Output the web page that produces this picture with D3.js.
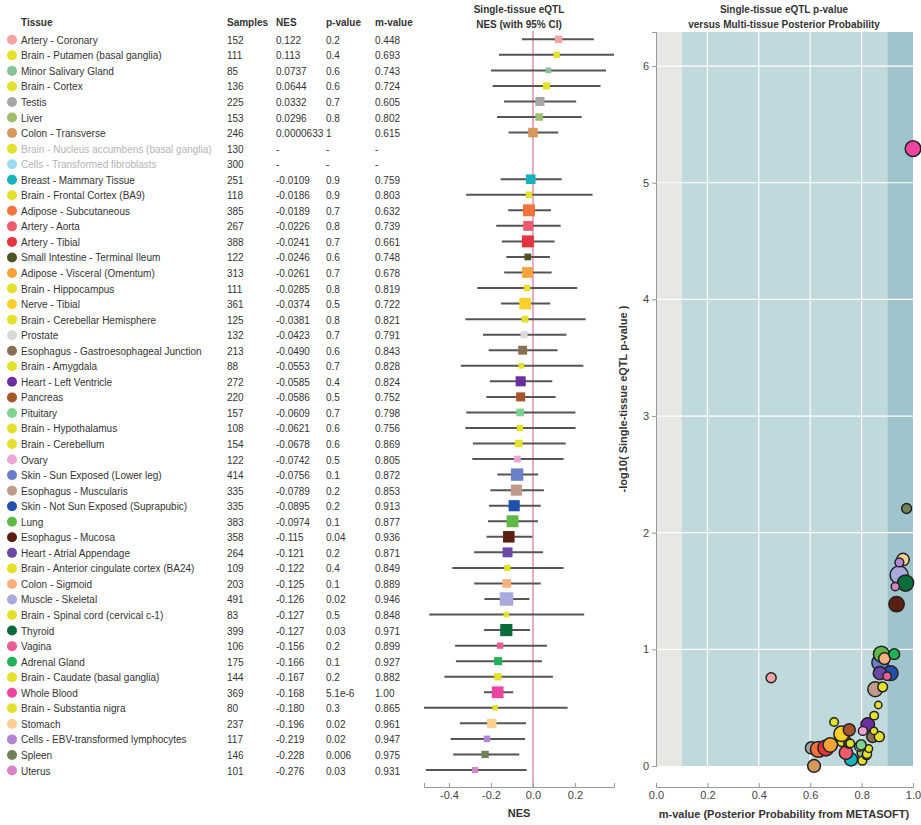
<!DOCTYPE html>
<html>
<head>
<meta charset="utf-8">
<script src="https://cdn.jsdelivr.net/npm/d3@7"></script>
<style>
  body { margin: 0; background: #fff; }
  text { font-family: "Liberation Sans", Arial, sans-serif; }
</style>
</head>
<body>
<svg id="chart" width="921" height="825"></svg>
<script>
// ---- data -------------------------------------------------------------
const tissues = [
  "Artery - Coronary", "Brain - Putamen (basal ganglia)", "Minor Salivary Gland", "Brain - Cortex",
  "Testis", "Liver", "Colon - Transverse", "Brain - Nucleus accumbens (basal ganglia)",
  "Cells - Transformed fibroblasts", "Breast - Mammary Tissue", "Brain - Frontal Cortex (BA9)",
  "Adipose - Subcutaneous", "Artery - Aorta", "Artery - Tibial", "Small Intestine - Terminal Ileum",
  "Adipose - Visceral (Omentum)", "Brain - Hippocampus", "Nerve - Tibial", "Brain - Cerebellar Hemisphere",
  "Prostate", "Esophagus - Gastroesophageal Junction", "Brain - Amygdala", "Heart - Left Ventricle",
  "Pancreas", "Pituitary", "Brain - Hypothalamus", "Brain - Cerebellum", "Ovary",
  "Skin - Sun Exposed (Lower leg)", "Esophagus - Muscularis", "Skin - Not Sun Exposed (Suprapubic)",
  "Lung", "Esophagus - Mucosa", "Heart - Atrial Appendage", "Brain - Anterior cingulate cortex (BA24)",
  "Colon - Sigmoid", "Muscle - Skeletal", "Brain - Spinal cord (cervical c-1)", "Thyroid", "Vagina",
  "Adrenal Gland", "Brain - Caudate (basal ganglia)", "Whole Blood", "Brain - Substantia nigra",
  "Stomach", "Cells - EBV-transformed lymphocytes", "Spleen", "Uterus"
];
const tissueColors = [
  "#f4a4a2", "#e3e12a", "#86c498", "#e3e12a", "#a6a6a6", "#9dbe6b", "#d8985c", "#e3e12a",
  "#98dcee", "#18b3bf", "#e3e12a", "#f4733a", "#f15a6b", "#e6343f", "#4c5522", "#f7a33a",
  "#e3e12a", "#fbd02a", "#e3e12a", "#d9d9d9", "#8a6e55", "#e3e12a", "#6a2fa0", "#a8552b",
  "#7fd290", "#e3e12a", "#e3e12a", "#eea6d6", "#6b7fc9", "#c09a8a", "#2251ad", "#5fba45",
  "#5b1f0f", "#6a49a6", "#e3e12a", "#f8b17c", "#a9a9dd", "#e3e12a", "#0c6b3a", "#ee5a94",
  "#20b456", "#e3e12a", "#ee45a3", "#e3e12a", "#fccf8e", "#b186d2", "#6f8253", "#d983c8"
];
const samples = [152, 111, 85, 136, 225, 153, 246, 130, 300, 251, 118, 385, 267, 388, 122, 313,
  111, 361, 125, 132, 213, 88, 272, 220, 157, 108, 154, 122, 414, 335, 335, 383, 358, 264, 109,
  203, 491, 83, 399, 106, 175, 144, 369, 80, 237, 117, 146, 101];
const nes = [0.122, 0.113, 0.0737, 0.0644, 0.0332, 0.0296, 0.0000633, null, null, -0.0109, -0.0186,
  -0.0189, -0.0226, -0.0241, -0.0246, -0.0261, -0.0285, -0.0374, -0.0381, -0.0423, -0.0490, -0.0553,
  -0.0585, -0.0586, -0.0609, -0.0621, -0.0678, -0.0742, -0.0756, -0.0789, -0.0895, -0.0974, -0.115,
  -0.121, -0.122, -0.125, -0.126, -0.127, -0.127, -0.156, -0.166, -0.167, -0.168, -0.180, -0.196,
  -0.219, -0.228, -0.276];
const ciLow = [-0.052, -0.162, -0.200, -0.192, -0.138, -0.171, -0.116, null, null, -0.154, -0.318,
  -0.118, -0.175, -0.148, -0.127, -0.137, -0.265, -0.152, -0.322, -0.238, -0.211, -0.344, -0.205,
  -0.222, -0.318, -0.322, -0.286, -0.289, -0.170, -0.203, -0.210, -0.214, -0.221, -0.280, -0.384,
  -0.280, -0.231, -0.494, -0.233, -0.371, -0.367, -0.422, -0.233, -0.519, -0.348, -0.392, -0.380, -0.510];
const ciHigh = [0.290, 0.386, 0.348, 0.322, 0.206, 0.232, 0.120, null, null, 0.137, 0.284,
  0.086, 0.132, 0.103, 0.081, 0.089, 0.211, 0.082, 0.251, 0.159, 0.117, 0.240, 0.092,
  0.108, 0.202, 0.203, 0.156, 0.146, 0.025, 0.052, 0.037, 0.024, -0.003, 0.048, 0.146,
  0.037, -0.017, 0.244, -0.014, 0.067, 0.043, 0.095, -0.094, 0.165, -0.033, -0.038, -0.065, -0.030];
const pValues = [0.175, 0.42, 0.60, 0.62, 0.70, 0.77, 0.9995, null, null, 0.88, 0.90,
  0.72, 0.77, 0.70, 0.64, 0.66, 0.81, 0.53, 0.79, 0.68, 0.56, 0.71, 0.44,
  0.49, 0.66, 0.64, 0.56, 0.50, 0.13, 0.22, 0.16, 0.11, 0.041, 0.16, 0.37,
  0.12, 0.023, 0.50, 0.027, 0.17, 0.11, 0.21, 5.1e-6, 0.30, 0.017, 0.018, 0.0062, 0.029];
const mValues = [0.448, 0.693, 0.743, 0.724, 0.605, 0.802, 0.615, null, null, 0.759, 0.803,
  0.632, 0.739, 0.661, 0.748, 0.678, 0.819, 0.722, 0.821, 0.791, 0.843, 0.828, 0.824,
  0.752, 0.798, 0.756, 0.869, 0.805, 0.872, 0.853, 0.913, 0.877, 0.936, 0.871, 0.849,
  0.889, 0.946, 0.848, 0.971, 0.899, 0.927, 0.882, 1.00, 0.865, 0.961, 0.947, 0.975, 0.931];

const nesTicks = [-0.4, -0.2, 0, 0.2];
const mTicks = [0, 0.2, 0.4, 0.6, 0.8, 1];
const logPTicks = [0, 1, 2, 3, 4, 5, 6];
const tableColumns = ["Tissue", "Samples", "NES", "p-value", "m-value"];

// ---- helpers ----------------------------------------------------------
const rows = tissues.map((t, i) => ({
  tissue: t, color: tissueColors[i], samples: samples[i], nes: nes[i],
  lo: ciLow[i], hi: ciHigh[i], p: pValues[i], m: mValues[i]
}));
const tested = rows.filter(d => d.nes !== null);
const fmt3 = v => v === null ? "-" : (+v).toPrecision(3);
const fmtP = v => v === null ? "-" : (v < 0.001 ? v.toExponential(1) : v.toPrecision(1));
const textColor = "#333";
const axisY = 787;   // shared baseline of both bottom axes

const svg = d3.select("#chart");
const rowY = d3.scalePoint().domain(tissues).range([40.3, 771]);

// bottom axis with ticks pointing up into the plot
function styleBottomAxis(g) {
  g.select(".domain").attr("stroke", "#999");
  g.selectAll(".tick line").attr("stroke", "#999");
  g.selectAll("text").attr("font-size", 11).attr("fill", "#444").attr("font-family", null);
}

// ---- table ------------------------------------------------------------
const colX = [21, 227, 276, 326, 375];
svg.append("g").selectAll("text").data(tableColumns).join("text")
  .attr("x", (d, i) => colX[i]).attr("y", 25.5)
  .attr("font-size", 10).attr("font-weight", "bold").attr("fill", textColor)
  .text(d => d);

const tr = svg.append("g").selectAll("g").data(rows).join("g")
  .attr("transform", d => `translate(0,${rowY(d.tissue)})`);
tr.append("circle").attr("cx", 12).attr("cy", -0.5).attr("r", 5).attr("fill", d => d.color);
const cells = d => [d.tissue, String(d.samples), fmt3(d.nes), fmtP(d.p), fmt3(d.m)];
tr.selectAll("text").data(d => cells(d).map(v => ({ v, faded: d.nes === null })))
  .join("text")
  .attr("x", (c, i) => colX[i]).attr("y", 3.5)
  .attr("font-size", 10)
  .attr("fill", (c, i) => c.faded && i === 0 ? "#b4b4b4" : textColor)
  .text(c => c.v);

// ---- forest plot of NES ----------------------------------------------
const xNes = d3.scaleLinear().domain([d3.min(ciLow), d3.max(ciHigh)]).range([424, 614]);
const sq = d3.scaleSqrt().domain([0, d3.max(samples)]).range([0, 13.5]);

svg.append("line")
  .attr("x1", xNes(0)).attr("x2", xNes(0)).attr("y1", 31).attr("y2", axisY)
  .attr("stroke", "#e48db4").attr("stroke-width", 1.5);

const fg = svg.append("g").selectAll("g").data(tested).join("g")
  .attr("transform", d => `translate(0,${rowY(d.tissue) - 1})`);
fg.append("line")
  .attr("x1", d => xNes(d.lo)).attr("x2", d => xNes(d.hi))
  .attr("stroke", "#555").attr("stroke-width", 2);
fg.append("rect")
  .attr("x", d => xNes(d.nes) - sq(d.samples) / 2).attr("y", d => -sq(d.samples) / 2)
  .attr("width", d => sq(d.samples)).attr("height", d => sq(d.samples))
  .attr("fill", d => d.color);

svg.append("g").attr("transform", `translate(0,${axisY})`)
  .call(d3.axisBottom(xNes).tickValues(nesTicks).tickFormat(d => d.toFixed(1))
    .tickSizeInner(-4).tickSizeOuter(-4).tickPadding(4))
  .call(styleBottomAxis);

svg.append("text").attr("x", 519).attr("y", 817).attr("text-anchor", "middle")
  .attr("font-size", 11).attr("font-weight", "bold").attr("fill", textColor).text("NES");
const ft = svg.append("text").attr("text-anchor", "middle")
  .attr("font-size", 10).attr("font-weight", "bold").attr("fill", textColor);
ft.append("tspan").attr("x", 519).attr("y", 13).text("Single-tissue eQTL");
ft.append("tspan").attr("x", 519).attr("y", 28).text("NES (with 95% CI)");

// ---- scatter: -log10 p versus m-value --------------------------------
const logP = rows.map(d => d.p === null ? null : -Math.log10(d.p));
const xM = d3.scaleLinear().domain([0, 1]).range([656, 913]);
const yP = d3.scaleLinear().domain([0, d3.max(logP) + 1]).range([766, 32]);
const rP = d3.scaleSqrt().domain([0, d3.max(samples)]).range([0, 9]);

const bands = [
  { a: 0, b: 0.1, fill: "#e7e7e4" },
  { a: 0.1, b: 0.9, fill: "#c0d9dd" },
  { a: 0.9, b: 1, fill: "#a0c4cb" }
];
svg.append("g").selectAll("rect").data(bands).join("rect")
  .attr("x", d => xM(d.a)).attr("width", d => xM(d.b) - xM(d.a))
  .attr("y", yP.range()[1]).attr("height", yP.range()[0] - yP.range()[1])
  .attr("fill", d => d.fill);

const grid = svg.append("g").attr("stroke", "#fff").attr("stroke-width", 1.2);
grid.selectAll(".vx").data(mTicks.filter(t => t > 0 && t < 1)).join("line")
  .attr("x1", d => xM(d)).attr("x2", d => xM(d))
  .attr("y1", yP.range()[1]).attr("y2", yP.range()[0]);
grid.selectAll(".hy").data(logPTicks.filter(t => t > 0)).join("line")
  .attr("x1", xM(0)).attr("x2", xM(1))
  .attr("y1", d => yP(d)).attr("y2", d => yP(d));

const yAxis = svg.append("g").attr("transform", `translate(${xM(0)},0)`)
  .call(d3.axisLeft(yP).tickValues(logPTicks).tickFormat(d3.format("d"))
    .tickSizeInner(4).tickSizeOuter(4).tickPadding(3));
yAxis.select(".domain").attr("stroke", "#999");
yAxis.selectAll(".tick line").attr("stroke", "#999");
yAxis.selectAll("text").attr("font-size", 11).attr("fill", "#444").attr("font-family", null);

svg.append("g").attr("transform", `translate(0,${axisY})`)
  .call(d3.axisBottom(xM).tickValues(mTicks).tickFormat(d => d.toFixed(1))
    .tickSizeInner(-4).tickSizeOuter(-4).tickPadding(4))
  .call(styleBottomAxis);

const pts = rows.map((d, i) => ({ ...d, lp: logP[i] })).filter(d => d.p !== null);
svg.append("g").selectAll("circle").data(pts).join("circle")
  .attr("cx", d => xM(d.m)).attr("cy", d => yP(d.lp)).attr("r", d => rP(d.samples))
  .attr("fill", d => d.color).attr("stroke", "#222").attr("stroke-width", 1.5);

svg.append("text").attr("x", 784).attr("y", 818).attr("text-anchor", "middle")
  .attr("font-size", 11).attr("font-weight", "bold").attr("fill", textColor)
  .text("m-value (Posterior Probability from METASOFT)");
svg.append("text").attr("transform", `translate(627,${(yP.range()[0] + yP.range()[1]) / 2}) rotate(-90)`)
  .attr("text-anchor", "middle").attr("font-size", 11).attr("font-weight", "bold").attr("fill", textColor)
  .text("-log10( Single-tissue eQTL p-value )");
const st = svg.append("text").attr("text-anchor", "middle")
  .attr("font-size", 10).attr("font-weight", "bold").attr("fill", textColor);
st.append("tspan").attr("x", 784).attr("y", 13).text("Single-tissue eQTL p-value");
st.append("tspan").attr("x", 784).attr("y", 28).text("versus Multi-tissue Posterior Probability");
</script>
</body>
</html>
